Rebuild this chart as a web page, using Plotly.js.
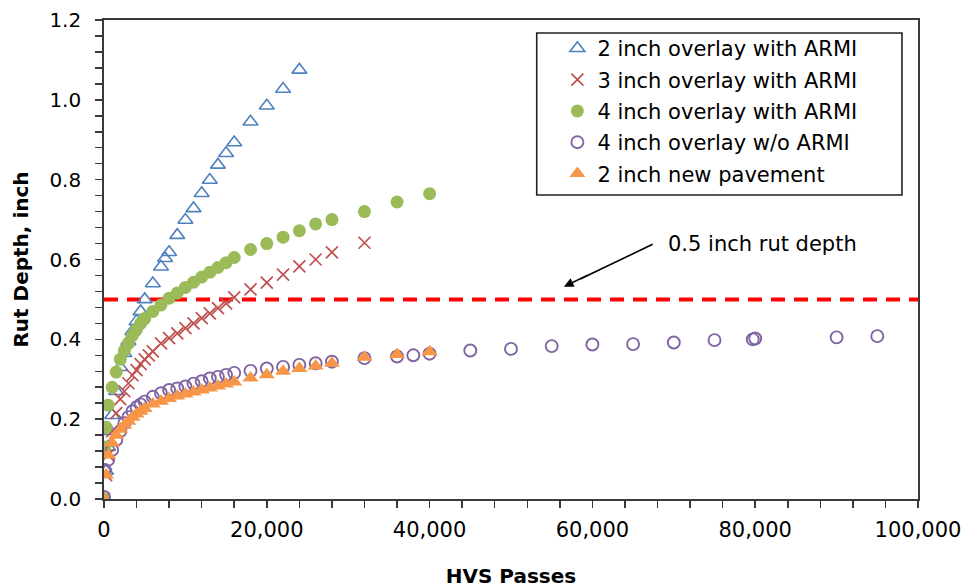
<!DOCTYPE html>
<html>
<head>
<meta charset="utf-8">
<script src="https://cdn.plot.ly/plotly-3.0.1.min.js"></script>
<style>html,body{margin:0;padding:0;background:#fff;}</style>
</head>
<body>
<div id="chart" style="width:967px;height:588px;"></div>
<script>
// 2 inch overlay with ARMI
const x2ARMI = [0, 250, 500, 750, 1000, 1500, 2000, 2500, 3000, 3500, 4000, 4500, 5000, 6000, 7000, 7500, 8000, 9000, 10000, 11000, 12000, 13000, 14000, 15000, 16000, 18000, 20000, 22000, 24000];
const y2ARMI = [0, 0.07, 0.13, 0.17, 0.21, 0.27, 0.33, 0.365, 0.395, 0.42, 0.445, 0.47, 0.50, 0.540, 0.582, 0.603, 0.618, 0.661, 0.699, 0.728, 0.766, 0.799, 0.837, 0.866, 0.893, 0.945, 0.985, 1.027, 1.075];
// 3 inch overlay with ARMI
const x3ARMI = [0, 250, 500, 1000, 1500, 2000, 2500, 3000, 3500, 4000, 4500, 5000, 5500, 6000, 7000, 8000, 9000, 10000, 11000, 12000, 13000, 14000, 15000, 16000, 18000, 20000, 22000, 24000, 26000, 28000, 32000];
const y3ARMI = [0, 0.06, 0.11, 0.17, 0.215, 0.25, 0.27, 0.29, 0.31, 0.323, 0.338, 0.35, 0.36, 0.37, 0.39, 0.403, 0.415, 0.428, 0.44, 0.453, 0.465, 0.478, 0.49, 0.505, 0.525, 0.542, 0.562, 0.583, 0.60, 0.618, 0.642];
// 4 inch overlay with ARMI
const x4ARMI = [0, 100, 250, 500, 1000, 1500, 2000, 2500, 3000, 3500, 4000, 4500, 5000, 6000, 7000, 8000, 9000, 10000, 11000, 12000, 13000, 14000, 15000, 16000, 18000, 20000, 22000, 24000, 26000, 28000, 32000, 36000, 40000];
const y4ARMI = [0, 0.13, 0.18, 0.235, 0.28, 0.318, 0.35, 0.372, 0.39, 0.41, 0.425, 0.44, 0.452, 0.47, 0.486, 0.503, 0.516, 0.53, 0.543, 0.556, 0.568, 0.58, 0.592, 0.605, 0.625, 0.64, 0.656, 0.672, 0.689, 0.700, 0.72, 0.744, 0.765];
// 4 inch overlay w/o ARMI
const x4NoARMI = [0, 100, 500, 1000, 1500, 2000, 2500, 3000, 3500, 4000, 4500, 5000, 6000, 7000, 8000, 9000, 10000, 11000, 12000, 13000, 14000, 15000, 16000, 18000, 20000, 22000, 24000, 26000, 28000, 32000, 36000, 38000, 40000, 45000, 50000, 55000, 60000, 65000, 70000, 75000, 79700, 80000, 90000, 95000];
const y4NoARMI = [0.005, 0.073, 0.098, 0.123, 0.148, 0.17, 0.19, 0.205, 0.22, 0.23, 0.237, 0.244, 0.256, 0.265, 0.273, 0.277, 0.282, 0.289, 0.295, 0.302, 0.306, 0.311, 0.316, 0.321, 0.327, 0.331, 0.336, 0.340, 0.344, 0.353, 0.357, 0.360, 0.364, 0.372, 0.376, 0.383, 0.387, 0.388, 0.392, 0.398, 0.400, 0.402, 0.405, 0.408];
// 2 inch new pavement
const xNew = [0, 250, 500, 1000, 1500, 2000, 2500, 3000, 3500, 4000, 4500, 5000, 6000, 7000, 8000, 9000, 10000, 11000, 12000, 13000, 14000, 15000, 16000, 18000, 20000, 22000, 24000, 26000, 28000, 32000, 36000, 40000];
const yNew = [0, 0.06, 0.11, 0.14, 0.16, 0.175, 0.185, 0.195, 0.205, 0.213, 0.22, 0.227, 0.238, 0.245, 0.252, 0.258, 0.263, 0.268, 0.273, 0.278, 0.283, 0.288, 0.293, 0.303, 0.311, 0.32, 0.327, 0.333, 0.340, 0.355, 0.362, 0.369];
// threshold
const xLimit = [0, 100000];
const yLimit = [0.5, 0.5];

const seriesNames = ['2 inch overlay with ARMI', '3 inch overlay with ARMI', '4 inch overlay with ARMI', '4 inch overlay w/o ARMI', '2 inch new pavement'];
const FONT = 'DejaVu Sans, sans-serif';
const AX = '#3a3a3a';

const traces = [
  {x: xLimit, y: yLimit, mode: 'lines', showlegend: false, hoverinfo: 'skip',
   line: {color: '#FF0000', width: 4, dash: '14px,9px'}},
  {x: x2ARMI, y: y2ARMI, name: seriesNames[0], mode: 'markers', legendgroup: 'a',
   marker: {symbol: 'triangle-up-open', size: 13, color: '#4F81BD', line: {width: 1.6, color: '#4F81BD'}}},
  {x: x3ARMI, y: y3ARMI, name: seriesNames[1], mode: 'markers', legendgroup: 'b',
   marker: {symbol: 'x-thin-open', size: 12, color: '#C0504D', line: {width: 1.7, color: '#C0504D'}}},
  {x: x4ARMI, y: y4ARMI, name: seriesNames[2], mode: 'markers', legendgroup: 'c',
   marker: {symbol: 'circle', size: 13, color: '#9BBB59', line: {width: 0}}},
  {x: x4NoARMI, y: y4NoARMI, name: seriesNames[3], mode: 'markers', legendgroup: 'd',
   marker: {symbol: 'circle-open', size: 12, color: '#8064A2', line: {width: 1.9, color: '#8064A2'}}},
  {x: xNew, y: yNew, name: seriesNames[4], mode: 'markers', legendgroup: 'e',
   marker: {symbol: 'triangle-up', size: 14, color: '#F79646', line: {width: 0}}}
];

const layout = {
  width: 967, height: 588,
  margin: {l: 104, r: 49, t: 20, b: 89},
  paper_bgcolor: '#fff', plot_bgcolor: '#fff',
  font: {family: FONT, color: '#000', size: 20},
  showlegend: true,
  legend: {x: 0.557, y: 0.983, xanchor: 'left', yanchor: 'top', bgcolor: 'rgba(0,0,0,0)',
           borderwidth: 0, font: {family: FONT, size: 21, color: '#000'}, tracegroupgap: 1,
           itemwidth: 30},
  xaxis: {range: [0, 100000], dtick: 20000, tick0: 0, tickformat: ',d',
          showgrid: false, zeroline: false, showline: true, mirror: true,
          linecolor: AX, linewidth: 1.8, ticks: 'outside', ticklen: 7, tickwidth: 1.5, tickcolor: AX,
          minor: {dtick: 4000, ticks: 'outside', ticklen: 7, tickwidth: 1.5, tickcolor: AX, showgrid: false},
          tickfont: {family: FONT, size: 21, color: '#000'}, ticklabelstandoff: 4,
          title: {text: '<b>HVS Passes</b>', font: {family: FONT, size: 20, color: '#000'}, standoff: 30},
          automargin: false},
  yaxis: {range: [0, 1.2], dtick: 0.2, tick0: 0, tickformat: '.1f',
          showgrid: false, zeroline: false, showline: true, mirror: true,
          linecolor: AX, linewidth: 1.8, ticks: 'outside', ticklen: 7, tickwidth: 1.5, tickcolor: AX,
          minor: {dtick: 0.04, ticks: 'outside', ticklen: 7, tickwidth: 1.5, tickcolor: AX, showgrid: false},
          tickfont: {family: FONT, size: 20, color: '#000'}, ticklabelstandoff: 10,
          title: {text: '<b>Rut Depth, inch</b>', font: {family: FONT, size: 20, color: '#000'}, standoff: 15},
          automargin: false},
  shapes: [
    {type: 'rect', xref: 'paper', yref: 'paper', x0: 0.5316, x1: 0.9803, y0: 0.6347, y1: 0.9729,
     line: {color: '#222', width: 1.6}, fillcolor: 'rgba(0,0,0,0)', layer: 'above'},
    {type: 'line', xref: 'x', yref: 'y', x0: 67400, y0: 0.638, x1: 58500, y1: 0.551,
     line: {color: '#000', width: 1.6}, layer: 'above'}
  ],
  annotations: [
    {xref: 'x', yref: 'y', x: 56500, y: 0.532, ax: 24, ay: -11.5,
     text: '&nbsp;', showarrow: true,
     xanchor: 'left', yanchor: 'middle', font: {size: 2}, borderpad: 0,
     arrowhead: 2, arrowsize: 1.2, arrowwidth: 1.6, arrowcolor: '#000', standoff: 0, startstandoff: 0},
    {xref: 'x', yref: 'y', x: 69000, y: 0.64, text: '0.5 inch rut depth', showarrow: false,
     xanchor: 'left', yanchor: 'middle', font: {family: FONT, size: 21, color: '#000'}}
  ]
};

Plotly.newPlot('chart', traces, layout, {displayModeBar: false, staticPlot: true});
</script>
</body>
</html>
